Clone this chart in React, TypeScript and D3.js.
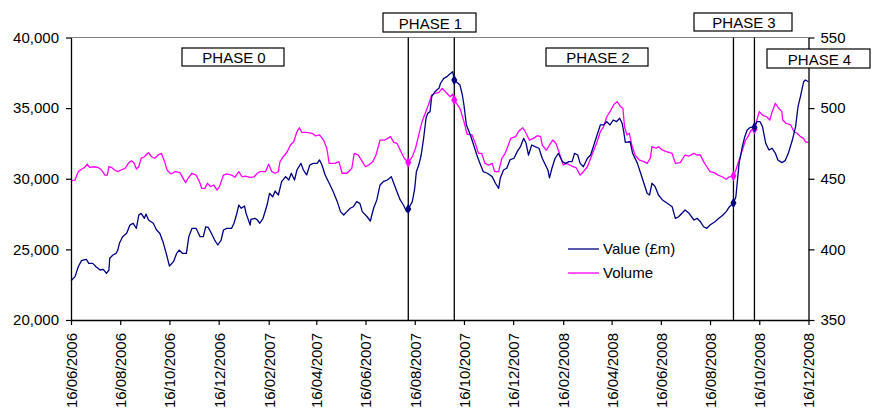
import React, { useEffect, useRef } from "react";
import * as d3 from "d3";

// ---- data (day offsets from 16/06/2006) ----
const startLabel = "16/06/2006";
const endLabel = "16/12/2008";

const xTickLabels = [
  "16/06/2006", "16/08/2006", "16/10/2006", "16/12/2006", "16/02/2007", "16/04/2007",
  "16/06/2007", "16/08/2007", "16/10/2007", "16/12/2007", "16/02/2008", "16/04/2008",
  "16/06/2008", "16/08/2008", "16/10/2008", "16/12/2008",
];
const leftTicks = [20000, 25000, 30000, 35000, 40000];
const rightTicks = [350, 400, 450, 500, 550];

const valueDays = [
  0, 5, 9, 13, 16, 19, 22, 27, 31, 36,
  40, 44, 47, 48, 52, 56, 58, 60, 64, 69,
  73, 77, 81, 84, 87, 91, 93, 96, 102, 106,
  110, 114, 118, 122, 127, 131, 134, 138, 143, 146,
  150, 155, 160, 164, 167, 170, 174, 178, 182, 186,
  189, 193, 199, 202, 205, 208, 211, 215, 217, 222,
  223, 228, 231, 234, 238, 243, 246, 250, 253, 257,
  261, 266, 270, 273, 277, 280, 285, 288, 292, 296,
  300, 305, 308, 311, 315, 320, 325, 330, 334, 338,
  342, 346, 350, 354, 358, 361, 367, 371, 375, 379,
  383, 387, 392, 397, 400, 404, 408, 412, 416, 418,
  423, 426, 428, 431, 434, 437, 440, 442, 445, 447,
  451, 456, 458, 462, 466, 468, 473, 475, 482, 485,
  487, 490, 495, 499, 503, 506, 511, 516, 522, 526,
  530, 532, 536, 540, 544, 549, 553, 557, 561, 564,
  567, 571, 575, 580, 584, 588, 591, 593, 596, 600,
  604, 609, 613, 617, 621, 624, 628, 631, 635, 640,
  644, 648, 652, 656, 660, 664, 668, 672, 676, 680,
  683, 685, 687, 693, 696, 702, 706, 710, 714, 717,
  720, 724, 728, 733, 739, 745, 749, 753, 761, 766,
  772, 776, 780, 784, 788, 792, 798, 803, 808, 812,
  816, 821, 824, 826, 828, 832, 835, 838, 842, 847,
  850, 854, 857, 861, 865, 869, 873, 876, 881, 885,
  889, 894, 898, 901, 904, 908, 910, 914,
];
const valueSeries = [
  22780, 23070, 23770, 24200, 24250, 24300, 24010, 24010, 23770, 23540,
  23590, 23300, 23540, 24370, 24600, 24720, 24950, 25430, 25900, 26140,
  26720, 26850, 26490, 27430, 27550, 27200, 27500, 27080, 26850, 26370,
  26140, 25540, 24720, 23820, 24130, 24720, 24950, 24720, 24720, 25900,
  26490, 26490, 25900, 25900, 26600, 26560, 26140, 25660, 25310, 25660,
  26370, 26490, 26490, 26850, 27430, 28140, 27910, 28070, 27550, 26720,
  27130, 27200, 27080, 26850, 27200, 28140, 28970, 28730, 29130, 28850,
  29790, 30150, 29910, 30390, 29910, 30620, 31090, 30620, 30270, 30970,
  31090, 31090, 31330, 30970, 30270, 29680, 29080, 28380, 27670, 27430,
  27670, 27910, 28020, 28380, 28260, 27670, 27310, 27010, 27910, 28500,
  29560, 29790, 29910, 30150, 29680, 29080, 28500, 28140, 27670, 27860,
  28380, 29320, 30500, 30970, 31680, 32860, 34280, 34630, 34750, 35810,
  36160, 36400, 36760, 37110, 37230, 37350, 37580, 36990, 36640, 35930,
  35220, 33810, 33100, 32390, 31680, 31210, 30500, 30390, 30150, 29680,
  29320, 30030, 30620, 30740, 31330, 31450, 31920, 32270, 32860, 32510,
  31680, 32390, 32270, 32160, 31450, 30970, 30620, 30070, 30740, 31450,
  31800, 31210, 31090, 31210, 31210, 31800, 31680, 31090, 30850, 31450,
  31680, 32390, 33100, 33810, 33810, 34040, 33810, 34160, 34040, 34280,
  33930, 33330, 32580, 32620, 31800, 31090, 30390, 29680, 28970, 28850,
  29680, 29440, 28850, 28500, 28260, 28020, 27200, 27310, 27790, 27550,
  27080, 27200, 26960, 26600, 26490, 26720, 26960, 27200, 27430, 27670,
  28020, 28280, 28730, 29910, 31090, 32270, 32980, 33450, 33640, 33640,
  34040, 34040, 33690, 32510, 32040, 32160, 31800, 31330, 31140, 31280,
  31800, 32740, 33690, 35100, 35810, 36870, 36990, 36870,
];

const volumeDays = [
  0, 5, 9, 13, 17, 20, 23, 29, 33, 38,
  42, 45, 47, 50, 54, 58, 62, 67, 71, 75,
  78, 81, 84, 87, 91, 93, 96, 100, 104, 108,
  112, 116, 119, 124, 129, 135, 139, 142, 145, 150,
  155, 160, 162, 166, 169, 173, 177, 181, 184, 189,
  193, 199, 203, 208, 212, 216, 222, 227, 231, 234,
  241, 245, 249, 253, 257, 259, 263, 268, 272, 276,
  280, 283, 286, 292, 299, 303, 308, 313, 317, 320,
  327, 332, 336, 342, 348, 351, 356, 361, 365, 369,
  374, 378, 383, 389, 396, 400, 404, 409, 413, 418,
  423, 427, 431, 435, 439, 443, 447, 451, 456, 460,
  464, 470, 473, 475, 482, 487, 491, 497, 501, 505,
  509, 513, 518, 522, 525, 530, 534, 538, 542, 545,
  551, 555, 560, 564, 568, 573, 578, 582, 584, 589,
  593, 597, 601, 606, 610, 614, 618, 622, 626, 631,
  635, 640, 644, 648, 652, 656, 660, 664, 668, 673,
  677, 681, 684, 686, 689, 692, 695, 699, 704, 710,
  714, 718, 720, 725, 728, 733, 739, 745, 749, 755,
  761, 766, 772, 776, 780, 784, 788, 792, 797, 802,
  807, 812, 816, 821, 824, 828, 832, 836, 839, 843,
  847, 850, 853, 857, 862, 866, 869, 873, 877, 881,
  882, 886, 892, 896, 900, 904, 908, 910, 914,
];
const volumeSeries = [
  448.6, 449.1, 455.0, 456.7, 458.1, 460.4, 458.1, 458.5, 458.1, 456.2,
  452.6, 452.6, 458.5, 458.1, 456.2, 455.0, 456.2, 457.4, 460.9, 462.8,
  461.4, 456.9, 458.5, 464.5, 465.6, 466.8, 468.4, 465.6, 464.5, 466.8,
  468.0, 462.1, 456.2, 453.4, 455.0, 454.3, 450.3, 447.2, 450.3, 453.9,
  452.6, 446.8, 443.2, 443.2, 446.8, 444.4, 445.6, 442.0, 444.4, 452.6,
  453.4, 452.6, 451.0, 455.0, 451.4, 451.9, 451.0, 451.4, 453.9, 455.0,
  455.0, 460.2, 455.0, 453.9, 455.0, 462.1, 465.6, 469.1, 473.9, 476.2,
  483.3, 486.1, 482.9, 482.9, 482.2, 480.3, 481.0, 477.4, 471.6, 460.9,
  460.9, 462.1, 453.9, 453.9, 457.4, 468.0, 466.8, 462.1, 458.5, 459.7,
  462.1, 466.8, 477.4, 477.4, 479.8, 475.8, 475.1, 469.1, 464.5, 461.5,
  465.6, 471.6, 481.0, 490.4, 496.3, 502.2, 509.3, 510.5, 511.2, 514.0,
  511.6, 508.1, 509.8, 505.7, 499.9, 490.4, 481.5, 481.0, 475.1, 468.0,
  468.0, 460.9, 459.7, 460.9, 455.0, 455.0, 464.5, 468.0, 473.9, 478.6,
  479.8, 483.8, 486.1, 482.2, 477.4, 478.6, 480.5, 479.8, 473.9, 470.3,
  473.9, 477.4, 475.1, 466.8, 459.7, 460.9, 459.7, 458.5, 457.8, 452.6,
  455.0, 458.5, 464.5, 470.3, 476.2, 483.3, 486.8, 493.9, 497.5, 502.7,
  504.5, 501.0, 499.9, 486.8, 481.0, 482.2, 473.9, 466.8, 463.3, 462.1,
  460.9, 464.5, 472.7, 471.6, 472.7, 470.3, 469.1, 468.0, 460.9, 461.4,
  466.8, 466.1, 468.0, 466.8, 466.8, 462.1, 458.5, 455.0, 454.3, 452.6,
  451.4, 449.6, 451.4, 451.9, 456.2, 463.3, 470.3, 477.4, 479.8, 484.5,
  485.0, 491.6, 497.5, 495.1, 493.9, 491.6, 497.5, 503.4, 499.9, 497.5,
  491.6, 489.3, 488.1, 483.3, 482.2, 479.8, 478.6, 476.2, 475.7,
];

// phase boundaries (day offsets) and the marked values at them
const phaseDays = [418, 475, 821, 847];
const phaseValueMarks = [27860, 36990, 28280, 33640];
const phaseVolumeMarks = [461.5, 505.7, 451.9, 485.0];

const phaseLabels = ["PHASE 0", "PHASE 1", "PHASE 2", "PHASE 3", "PHASE 4"];
const seriesNames = ["Value (£m)", "Volume"];

const NAVY = "#000080";
const MAGENTA = "#FF00FF";
const FONT = "'Liberation Sans', Arial, Helvetica, sans-serif";

export default function App() {
  const ref = useRef<SVGSVGElement>(null);

  useEffect(() => {
    const svg = d3.select(ref.current);
    svg.selectAll("*").remove();

    const parse = d3.timeParse("%d/%m/%Y");
    const start = parse(startLabel) as Date;
    const end = parse(endLabel) as Date;
    const dayToDate = (d: number) => d3.timeDay.offset(start, d);

    const left = 71, right = 808.5, top = 37.5, bottom = 320;
    const x = d3.scaleTime().domain([start, end]).range([left, right]);
    const yL = d3.scaleLinear().domain([20000, 40000]).range([bottom, top]);
    const yR = d3.scaleLinear().domain([350, 550]).range([bottom, top]);

    svg.append("rect").attr("width", 872).attr("height", 412).attr("fill", "#fff");

    // top border
    svg.append("line")
      .attr("x1", left).attr("x2", right).attr("y1", top).attr("y2", top)
      .attr("stroke", "#808080").attr("stroke-width", 1.2);

    // series
    const valLine = d3.line<number>()
      .x((_, i) => x(dayToDate(valueDays[i])))
      .y((v) => yL(v));
    const volLine = d3.line<number>()
      .x((_, i) => x(dayToDate(volumeDays[i])))
      .y((v) => yR(v));

    svg.append("path").datum(volumeSeries).attr("d", volLine as any)
      .attr("fill", "none").attr("stroke", MAGENTA).attr("stroke-width", 1.3)
      .attr("stroke-linejoin", "round");
    svg.append("path").datum(valueSeries).attr("d", valLine as any)
      .attr("fill", "none").attr("stroke", NAVY).attr("stroke-width", 1.3)
      .attr("stroke-linejoin", "round");

    // phase lines
    phaseDays.forEach((d) => {
      const px = x(dayToDate(d));
      svg.append("line").attr("x1", px).attr("x2", px).attr("y1", top).attr("y2", bottom)
        .attr("stroke", "#000").attr("stroke-width", 1.3);
    });

    // markers
    const diamond = d3.symbol().type(d3.symbolDiamond).size(32);
    phaseDays.forEach((d, i) => {
      const px = x(dayToDate(d));
      svg.append("path").attr("d", diamond() as string)
        .attr("transform", `translate(${px},${yR(phaseVolumeMarks[i])})`)
        .attr("fill", MAGENTA);
      svg.append("path").attr("d", diamond() as string)
        .attr("transform", `translate(${px},${yL(phaseValueMarks[i])})`)
        .attr("fill", NAVY);
    });

    // axes
    const styleAxis = (g: any) => {
      g.selectAll("path.domain").attr("stroke", "#000").attr("stroke-width", 1.3);
      g.selectAll(".tick line").attr("stroke", "#000").attr("stroke-width", 1.2);
      g.selectAll("text").attr("font-family", FONT).attr("font-size", 15).attr("fill", "#000");
    };

    const gl = svg.append("g").attr("transform", `translate(${left},0)`)
      .call(d3.axisLeft(yL).tickValues(leftTicks).tickSize(5).tickSizeOuter(0)
        .tickPadding(7).tickFormat(d3.format(",") as any));
    styleAxis(gl);

    const gr = svg.append("g").attr("transform", `translate(${right},0)`)
      .call(d3.axisRight(yR).tickValues(rightTicks).tickSize(6).tickSizeOuter(0)
        .tickPadding(6).tickFormat(d3.format("d") as any));
    styleAxis(gr);

    const xTicks = xTickLabels.map((s) => parse(s) as Date);
    const gb = svg.append("g").attr("transform", `translate(0,${bottom})`)
      .call(d3.axisBottom(x).tickValues(xTicks).tickSize(5).tickSizeOuter(0)
        .tickFormat(d3.timeFormat("%d/%m/%Y") as any));
    styleAxis(gb);
    gb.selectAll(".tick text")
      .attr("transform", "rotate(-90)")
      .attr("text-anchor", "end")
      .attr("x", -13)
      .attr("y", 0)
      .attr("dy", "0.36em");

    // phase label boxes
    const boxes = [
      { x0: 182, x1: 284, y0: 48, y1: 66 },
      { x0: 383, x1: 476, y0: 13, y1: 32 },
      { x0: 546, x1: 648, y0: 48, y1: 66 },
      { x0: 694, x1: 792, y0: 13, y1: 31 },
      { x0: 767, x1: 870, y0: 49, y1: 68 },
    ];
    boxes.forEach((b, i) => {
      svg.append("rect").attr("x", b.x0).attr("y", b.y0)
        .attr("width", b.x1 - b.x0).attr("height", b.y1 - b.y0)
        .attr("fill", "#fff").attr("stroke", "#000").attr("stroke-width", 1.2);
      svg.append("text").attr("x", (b.x0 + b.x1) / 2 + 1).attr("y", (b.y0 + b.y1) / 2 + 1)
        .attr("dy", "0.35em").attr("text-anchor", "middle")
        .attr("font-family", FONT).attr("font-size", 15).attr("fill", "#000")
        .text(phaseLabels[i]);
    });

    // legend
    const legendColors = [NAVY, MAGENTA];
    seriesNames.forEach((name, i) => {
      const ly = 249 + i * 24;
      svg.append("line").attr("x1", 568).attr("x2", 599).attr("y1", ly).attr("y2", ly)
        .attr("stroke", legendColors[i]).attr("stroke-width", 1.3);
      svg.append("text").attr("x", 603).attr("y", ly).attr("dy", "0.35em")
        .attr("font-family", FONT).attr("font-size", 15).attr("fill", "#000")
        .text(name);
    });
  }, []);

  return (
    <>
      <style>{"body{margin:0;}"}</style>
      <svg ref={ref} width={872} height={412} style={{ display: "block" }} />
    </>
  );
}
